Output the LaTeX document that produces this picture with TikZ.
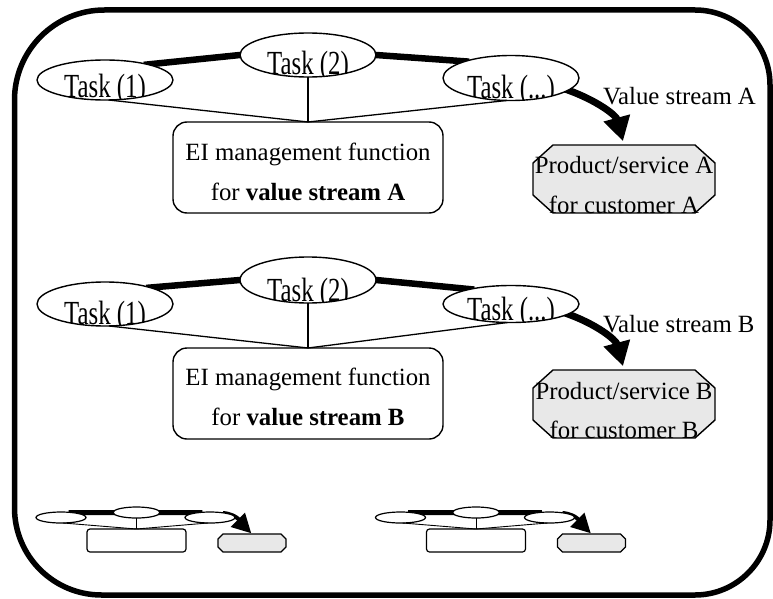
\documentclass[tikz,border=0pt]{standalone}
\usepackage{fontspec}
\setmainfont{Liberation Serif}
\usepackage{graphicx}
\usetikzlibrary{arrows.meta,shapes.geometric,calc,backgrounds}
\definecolor{prodgray}{RGB}{232,232,232}
\newcommand\dfont{\fontsize{24.8}{29}\selectfont}
% octagon drawn on the corners of a named rectangle node: #1 node, #2 dx, #3 dy, #4 style
\newcommand\octo[4]{%
  \draw[#4] ($(#1.north west)+(#2,0)$) -- ($(#1.north east)+(-#2,0)$)
    -- ($(#1.north east)+(0,#3)$) -- ($(#1.south east)+(0,-#3)$)
    -- ($(#1.south east)+(-#2,0)$) -- ($(#1.south west)+(#2,0)$)
    -- ($(#1.south west)+(0,-#3)$) -- ($(#1.north west)+(0,#3)$) -- cycle;}
% small overview diagram: #1 prefix, #2 x offset
\newcommand\smalldiag[2]{%
  \node[stask, minimum width=50pt] (#1a) at ({61+#2},517.5) {};
  \node[stask, minimum width=47pt] (#1b) at ({136.5+#2},512.5) {};
  \node[stask, minimum width=50pt] (#1c) at ({210+#2},517.5) {};
  \node[sbox] (#1box) at ({136.5+#2},540.5) {};
  \node[sprod] (#1prod) at ({252+#2},543) {};
  \octo{#1prod}{5}{5}{octfill, line width=1.1pt}
  \draw[sthin] (#1a.-70) -- (#1box.north);
  \draw[sthin] (#1b.south) -- (#1box.north);
  \draw[sthin] (#1c.-110) -- (#1box.north);
  \begin{scope}[on background layer]
    \draw[sflow] (#1a.25) -- (#1b.west);
    \draw[sflow] (#1b.east) -- (#1c.155);
    \draw[sarrow] (#1c.15) to[out=-5,in=135] (#1prod.north);
  \end{scope}}
\begin{document}
\begin{tikzpicture}[x=1pt,y=-1pt,
  txt/.style={font=\dfont, inner sep=0pt, outer sep=0pt},
  task/.style={ellipse, draw, fill=white, line width=1.4pt, inner sep=0pt, outer sep=0pt, minimum width=136pt,
    path picture={\pgftext[base,at={\pgfpointadd{\pgfpointanchor{path picture bounding box}{south}}{\pgfpoint{0pt}{2pt}}}]{\dfont\scalebox{1}[1.36]{#1}}}},
  eibox/.style={rectangle, draw, fill=white, rounded corners=14pt, line width=1.4pt, minimum width=270pt, minimum height=91pt, inner sep=0pt, outer sep=0pt},
  prodbox/.style={rectangle, minimum width=182pt, minimum height=68pt, inner sep=0pt, outer sep=0pt},
  flow/.style={line width=6.5pt, shorten <=-4pt, shorten >=-4pt},
  flowarrow/.style={line width=7pt, -{Triangle[width=26pt,length=24pt]}, shorten >=4pt, shorten <=-4pt},
  thinline/.style={line width=1.3pt},
  octfill/.style={draw, fill=prodgray, line width=1.4pt},
  stask/.style={ellipse, draw, fill=white, line width=1.2pt, minimum height=11pt, inner sep=0pt, outer sep=0pt},
  sbox/.style={rectangle, draw, fill=white, rounded corners=3pt, line width=1.2pt, minimum width=99pt, minimum height=23pt, inner sep=0pt, outer sep=0pt},
  sprod/.style={rectangle, minimum width=68pt, minimum height=18pt, inner sep=0pt, outer sep=0pt},
  sthin/.style={line width=0.9pt},
  sflow/.style={line width=5pt, shorten <=-3pt, shorten >=-3pt},
  sarrow/.style={line width=4pt, -{Triangle[width=19pt,length=19pt]}, shorten <=-3pt, shorten >=1pt},
]
\useasboundingbox (0,0) rectangle (773,599);
% outer frame
\draw[line width=5.5pt] (14.5,508) -- (14.5,100) arc[start angle=180,end angle=90,radius=90pt]
  -- (695,10) arc[start angle=90,end angle=0,radius=75pt]
  -- (770,520) arc[start angle=0,end angle=-90,radius=75pt]
  -- (101.5,595) arc[start angle=-90,end angle=-180,radius=87pt] -- cycle;

% ---------- value stream A ----------
\node[task=Task (1), minimum height=40pt] (tA1) at (105,80) {};
\node[task=Task (2), minimum height=44pt] (tA2) at (308,55) {};
\node[task=Task (...), minimum height=45pt] (tA3) at (511,78) {};
\node[eibox] (eA) at (308,167.5) {};
\node[txt, anchor=base] (eA1) at ($(eA.center)+(0,-7.5)$) {EI management function};
\node[txt, anchor=base] (eA2) at ($(eA.center)+(0,32.5)$) {for \textbf{value stream A}};
\node[prodbox] (pA) at (624,179) {};
\octo{pA}{20}{18}{octfill}
\node[txt, anchor=base] (pA1) at ($(pA.center)+(0,-6)$) {Product/service A};
\node[txt, anchor=base] (pA2) at ($(pA.center)+(0,34)$) {for customer A};
\node[txt, anchor=base west] (vA) at (603,105) {Value stream A};
\draw[thinline] (tA1.-80) -- (eA.north);
\draw[thinline] (tA2.south) -- (eA.north);
\draw[thinline] (tA3.-100) -- (eA.north);
\begin{scope}[on background layer]
  \draw[flow] (tA1.20) -- (tA2.west);
  \draw[flow] (tA2.east) -- (tA3.160);
  \draw[flowarrow] (tA3.-12) to[out=-19,in=105] (pA.north);
\end{scope}

% ---------- value stream B ----------
\node[task=Task (1), minimum height=44pt] (tB1) at (105,304) {};
\node[task=Task (2), minimum height=46pt] (tB2) at (308,280) {};
\node[task=Task (...), minimum height=37pt] (tB3) at (511,304) {};
\node[eibox] (eB) at (308,393.5) {};
\node[txt, anchor=base] (eB1) at ($(eB.center)+(0,-8.5)$) {EI management function};
\node[txt, anchor=base] (eB2) at ($(eB.center)+(0,31.5)$) {for \textbf{value stream B}};
\node[prodbox] (pB) at (624,404) {};
\octo{pB}{20}{18}{octfill}
\node[txt, anchor=base] (pB1) at ($(pB.center)+(0,-5)$) {Product/service B};
\node[txt, anchor=base] (pB2) at ($(pB.center)+(0,34)$) {for customer B};
\node[txt, anchor=base west] (vB) at (603,332) {Value stream B};
\draw[thinline] (tB1.-80) -- (eB.north);
\draw[thinline] (tB2.south) -- (eB.north);
\draw[thinline] (tB3.-100) -- (eB.north);
\begin{scope}[on background layer]
  \draw[flow] (tB1.20) -- (tB2.west);
  \draw[flow] (tB2.east) -- (tB3.160);
  \draw[flowarrow] (tB3.-10) to[out=-19,in=105] (pB.north);
\end{scope}

% ---------- small overview diagrams ----------
\smalldiag{sL}{0}
\smalldiag{sR}{339.5}
\end{tikzpicture}
\end{document}
